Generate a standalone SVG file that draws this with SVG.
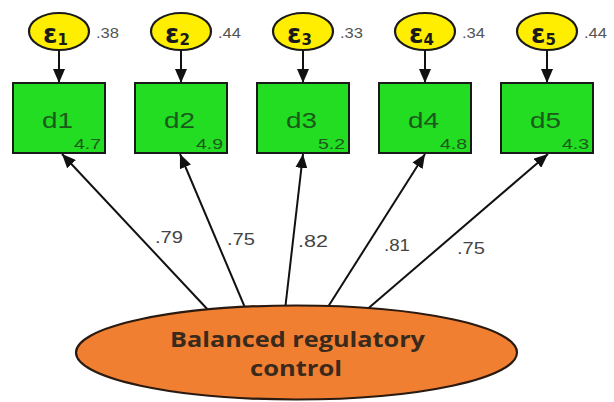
<svg xmlns="http://www.w3.org/2000/svg" width="614" height="402" viewBox="0 0 614 402">
  <style>
    .err ellipse { fill: #FFEE00; stroke: #1a1a1a; stroke-width: 2.2; }
    .eps { font-family: "DejaVu Sans", sans-serif; font-weight: bold; fill: #1a1a1a; }
    .errval { font-family: "Liberation Sans", Arial, sans-serif; font-size: 15px; fill: #555; }
    .box rect { fill: #22DD22; stroke: #1a1a1a; stroke-width: 2; }
    .dname { font-family: "Liberation Sans", Arial, sans-serif; font-size: 22px; fill: #1b5a1b; }
    .mean { font-family: "Liberation Sans", Arial, sans-serif; font-size: 15px; fill: #1b5a1b; text-anchor: end; }
    .load { font-family: "Liberation Sans", Arial, sans-serif; font-size: 17px; fill: #444; }
    .edge { stroke: #111; stroke-width: 2; fill: none; marker-end: url(#head); }
    .latent ellipse { fill: #F07F32; stroke: #2a1a10; stroke-width: 2.2; }
    .latent text { font-family: "Open Sans", "Liberation Sans", sans-serif; font-weight: bold; font-size: 21px; fill: #3a2a1c; text-anchor: middle; }
  </style>
  <defs>
    <marker id="head" markerUnits="userSpaceOnUse" markerWidth="15" markerHeight="12" refX="14" refY="6" orient="auto">
      <path d="M0,0 L14,6 L0,12 z" fill="#111"/>
    </marker>
  </defs>

  <rect width="614" height="402" fill="#fff"/>

  <!-- connectors: error terms to indicators, latent factor to indicators -->
  <g id="connectors">
    <line class="edge" x1="59" y1="50" x2="59" y2="83"/>
    <line class="edge" x1="181" y1="50" x2="181" y2="83"/>
    <line class="edge" x1="303" y1="50" x2="303" y2="83"/>
    <line class="edge" x1="425" y1="50" x2="425" y2="83"/>
    <line class="edge" x1="547" y1="50" x2="547" y2="83"/>

    <line class="edge" x1="210" y1="312" x2="62" y2="154"/>
    <line class="edge" x1="246" y1="310" x2="180" y2="154"/>
    <line class="edge" x1="285" y1="310" x2="303" y2="154"/>
    <line class="edge" x1="326" y1="310" x2="425" y2="154"/>
    <line class="edge" x1="364" y1="312" x2="548" y2="154"/>

    <text class="load" x="155" y="243" textLength="28" lengthAdjust="spacingAndGlyphs">.79</text>
    <text class="load" x="227" y="245" textLength="28" lengthAdjust="spacingAndGlyphs">.75</text>
    <text class="load" x="298" y="247" textLength="30" lengthAdjust="spacingAndGlyphs">.82</text>
    <text class="load" x="384" y="251" textLength="26" lengthAdjust="spacingAndGlyphs">.81</text>
    <text class="load" x="457" y="254" textLength="28" lengthAdjust="spacingAndGlyphs">.75</text>
  </g>

  <!-- error terms -->
  <g id="e1" class="err">
    <ellipse cx="59" cy="31.5" rx="30" ry="18.5"/>
    <text class="eps" x="43" y="43" font-size="26">ε<tspan font-size="15" dy="2">1</tspan></text>
    <text class="errval" x="96" y="38" textLength="23" lengthAdjust="spacingAndGlyphs">.38</text>
  </g>
  <g id="e2" class="err">
    <ellipse cx="181" cy="31.5" rx="30" ry="18.5"/>
    <text class="eps" x="165" y="43" font-size="26">ε<tspan font-size="15" dy="2">2</tspan></text>
    <text class="errval" x="218" y="38" textLength="23" lengthAdjust="spacingAndGlyphs">.44</text>
  </g>
  <g id="e3" class="err">
    <ellipse cx="303" cy="31.5" rx="30" ry="18.5"/>
    <text class="eps" x="287" y="43" font-size="26">ε<tspan font-size="15" dy="2">3</tspan></text>
    <text class="errval" x="340" y="38" textLength="23" lengthAdjust="spacingAndGlyphs">.33</text>
  </g>
  <g id="e4" class="err">
    <ellipse cx="425" cy="31.5" rx="30" ry="18.5"/>
    <text class="eps" x="409" y="43" font-size="26">ε<tspan font-size="15" dy="2">4</tspan></text>
    <text class="errval" x="462" y="38" textLength="23" lengthAdjust="spacingAndGlyphs">.34</text>
  </g>
  <g id="e5" class="err">
    <ellipse cx="547" cy="31.5" rx="30" ry="18.5"/>
    <text class="eps" x="531" y="43" font-size="26">ε<tspan font-size="15" dy="2">5</tspan></text>
    <text class="errval" x="584" y="38" textLength="23" lengthAdjust="spacingAndGlyphs">.44</text>
  </g>

  <!-- observed indicators -->
  <g id="d1" class="box">
    <rect x="13" y="83" width="92" height="70"/>
    <text class="dname" x="42" y="128" textLength="31" lengthAdjust="spacingAndGlyphs">d1</text>
    <text class="mean" x="101" y="149" textLength="27" lengthAdjust="spacingAndGlyphs">4.7</text>
  </g>
  <g id="d2" class="box">
    <rect x="135" y="83" width="92" height="70"/>
    <text class="dname" x="164" y="128" textLength="31" lengthAdjust="spacingAndGlyphs">d2</text>
    <text class="mean" x="223" y="149" textLength="27" lengthAdjust="spacingAndGlyphs">4.9</text>
  </g>
  <g id="d3" class="box">
    <rect x="257" y="83" width="92" height="70"/>
    <text class="dname" x="286" y="128" textLength="31" lengthAdjust="spacingAndGlyphs">d3</text>
    <text class="mean" x="345" y="149" textLength="27" lengthAdjust="spacingAndGlyphs">5.2</text>
  </g>
  <g id="d4" class="box">
    <rect x="379" y="83" width="92" height="70"/>
    <text class="dname" x="408" y="128" textLength="31" lengthAdjust="spacingAndGlyphs">d4</text>
    <text class="mean" x="467" y="149" textLength="27" lengthAdjust="spacingAndGlyphs">4.8</text>
  </g>
  <g id="d5" class="box">
    <rect x="501" y="83" width="92" height="70"/>
    <text class="dname" x="530" y="128" textLength="31" lengthAdjust="spacingAndGlyphs">d5</text>
    <text class="mean" x="589" y="149" textLength="27" lengthAdjust="spacingAndGlyphs">4.3</text>
  </g>

  <!-- latent factor -->
  <g id="latent" class="latent">
    <ellipse cx="296.5" cy="352.5" rx="220.5" ry="47"/>
    <text x="297.5" y="347" textLength="255" lengthAdjust="spacingAndGlyphs">Balanced regulatory</text>
    <text x="296" y="376" textLength="92" lengthAdjust="spacingAndGlyphs">control</text>
  </g>
</svg>
